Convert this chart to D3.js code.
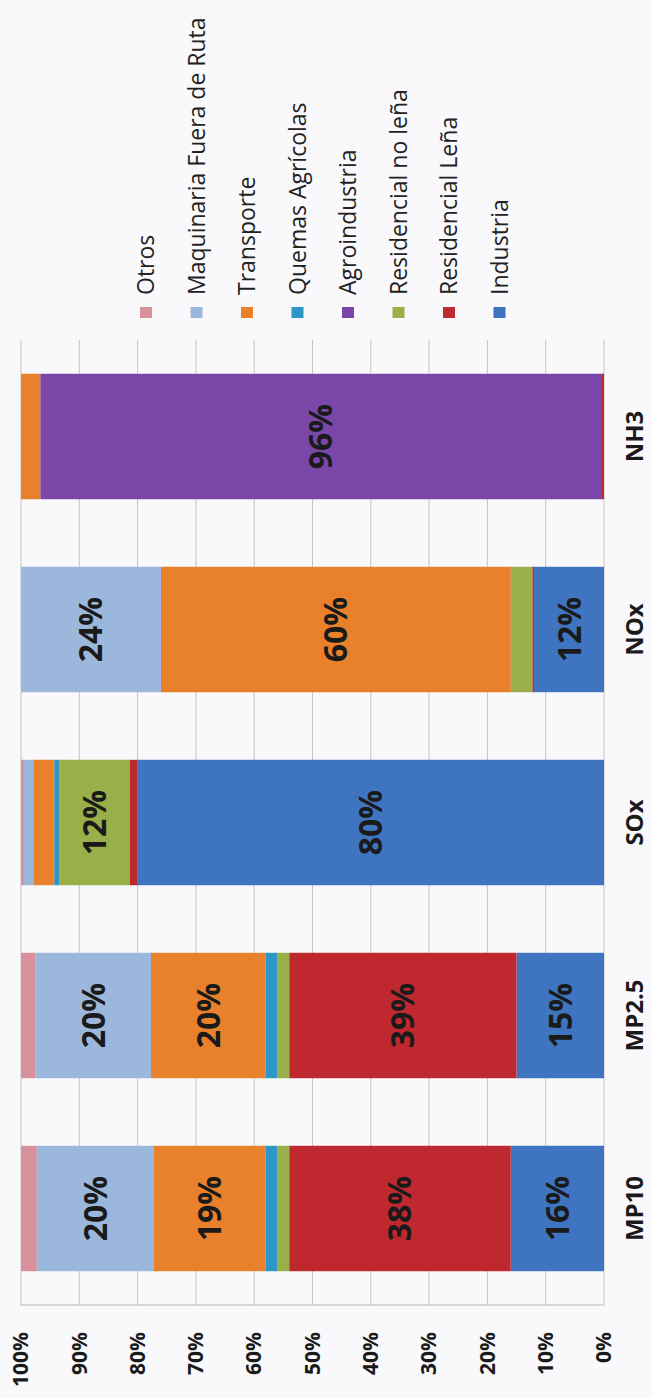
<!DOCTYPE html>
<html>
<head>
<meta charset="utf-8">
<script src="https://d3js.org/d3.v7.min.js"></script>
<style>
  body { margin: 0; background: #f9f9fb; }
  svg { display: block; }
  text { font-family: "Open Sans", sans-serif; }
</style>
</head>
<body>
<svg id="chart"></svg>
<script>
// categories (pollutants) and sources, bottom of the stack first
const categories = ["MP10", "MP2.5", "SOx", "NOx", "NH3"];
const sources = ["Industria", "Residencial Leña", "Residencial no leña", "Agroindustria",
                 "Quemas Agrícolas", "Transporte", "Maquinaria Fuera de Ruta", "Otros"];

// share of each source per pollutant (%)
const industria      = [16,   15,   80,   12,   0];
const residLena      = [38,   39,   1.4,  0.3,  0.5];
const residNoLena    = [2,    2,    12,   3.7,  0];
const agroindustria  = [0,    0,    0,    0,    96.2];
const quemas         = [2,    2,    0.9,  0,    0];
const transporte     = [19.3, 19.7, 3.6,  60,   3.3];
const maquinaria     = [20,   19.8, 1.6,  24,   0];
const otros          = [2.7,  2.5,  0.5,  0,    0];

const tickLabels = ["0%", "10%", "20%", "30%", "40%", "50%", "60%", "70%", "80%", "90%", "100%"];

const colors = ["#3f74c0", "#c0282f", "#9aae4a", "#7a46a8", "#2b97c6", "#e8802c", "#9bb7dc", "#d8909a"];

const seriesValues = [industria, residLena, residNoLena, agroindustria, quemas, transporte, maquinaria, otros];
const rows = categories.map((c, i) => {
  const r = { cat: c };
  sources.forEach((s, j) => r[s] = seriesValues[j][i]);
  return r;
});

// page is the chart turned a quarter turn counter-clockwise
const pageW = 652, pageH = 1398;

const svg = d3.select("#chart").attr("width", pageW).attr("height", pageH);
const g = svg.append("g").attr("transform", `translate(0,${pageH}) rotate(-90)`);

const x = d3.scaleBand().domain(categories).range([93, 1058]).paddingInner(0.35).paddingOuter(0.175);
const y = d3.scaleLinear().domain([0, 100]).range([604, 21]);

// grid
g.append("g")
  .selectAll("line")
  .data(d3.range(0, 101, 10))
  .join("line")
  .attr("x1", 93).attr("x2", 1058)
  .attr("y1", d => y(d)).attr("y2", d => y(d))
  .attr("stroke", "#c4c4c4").attr("stroke-width", 1);
g.append("line")
  .attr("x1", 93).attr("x2", 93)
  .attr("y1", y(0)).attr("y2", y(100))
  .attr("stroke", "#b8b8b8").attr("stroke-width", 1);

// value axis labels
const yAxis = d3.axisLeft(y).tickValues(d3.range(0, 101, 10))
  .tickFormat((d, i) => tickLabels[i]).tickSize(0).tickPadding(0);
g.append("g")
  .attr("transform", "translate(66,0)")
  .call(yAxis)
  .call(a => a.select(".domain").remove())
  .selectAll("text")
  .attr("font-family", "Open Sans").attr("font-size", 21).attr("font-weight", 700)
  .attr("fill", "#1a1a1a");

// category labels
const xAxis = d3.axisBottom(x).tickSize(0).tickPadding(0);
g.append("g")
  .attr("transform", "translate(0,626)")
  .call(xAxis)
  .call(a => a.select(".domain").remove())
  .selectAll("text")
  .attr("font-family", "Open Sans").attr("font-size", 24).attr("font-weight", 700)
  .attr("fill", "#1a1a1a").attr("dy", "0.71em");

// stacked bars
const stacked = d3.stack().keys(sources)(rows);
const layer = g.append("g").selectAll("g")
  .data(stacked)
  .join("g")
  .attr("fill", (d, i) => colors[i]);

layer.selectAll("rect")
  .data(d => d)
  .join("rect")
  .attr("x", d => x(d.data.cat))
  .attr("width", x.bandwidth())
  .attr("y", d => y(d[1]))
  .attr("height", d => y(d[0]) - y(d[1]));

// data labels for the larger segments
layer.selectAll("text")
  .data(d => d.filter(p => p[1] - p[0] >= 10))
  .join("text")
  .attr("x", d => x(d.data.cat) + x.bandwidth() / 2)
  .attr("y", d => (y(d[0]) + y(d[1])) / 2)
  .attr("dy", "0.36em")
  .attr("text-anchor", "middle")
  .attr("font-size", 32).attr("font-weight", 700)
  .attr("fill", "#1a1a1a")
  .text(d => Math.round(d[1] - d[0]) + "%");

// legend (reversed order, Otros first)
const legendItems = sources.map((s, i) => ({ name: s, color: colors[i] })).reverse();
const legend = g.append("g").selectAll("g")
  .data(legendItems)
  .join("g")
  .attr("transform", (d, i) => `translate(1080,${146 + i * 50.5})`);
legend.append("rect")
  .attr("x", 0).attr("y", -6).attr("width", 11).attr("height", 12)
  .attr("fill", d => d.color);
legend.append("text")
  .attr("x", 23).attr("y", 0).attr("dy", "0.36em")
  .attr("font-size", 23).attr("fill", "#222")
  .text(d => d.name);
</script>
</body>
</html>
